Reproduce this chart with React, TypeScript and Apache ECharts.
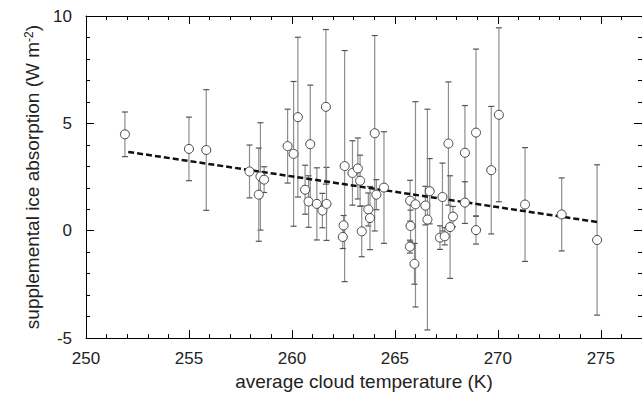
import React, { useEffect, useRef } from "react";
import * as echarts from "echarts";

// average cloud temperature (K)
const temps = [
  251.89, 255.0, 255.84, 257.94, 258.47, 258.65, 258.39, 259.79, 260.08, 260.29,
  260.64, 260.81, 260.89, 261.21, 261.48, 261.68, 261.65, 262.56, 262.51, 262.47,
  262.94, 263.2, 263.31, 263.39, 263.71, 263.79, 264.02, 264.1, 264.47, 265.74,
  265.76, 265.73, 266.0, 265.95, 266.69, 266.48, 266.58, 267.31, 267.19, 267.42,
  267.6, 267.68, 267.82, 268.4, 268.4, 268.94, 268.94, 269.68, 270.05, 271.32,
  273.1, 274.82,
];
// supplemental ice absorption (W m-2)
const values = [
  4.49, 3.81, 3.76, 2.76, 2.53, 2.38, 1.68, 3.94, 3.58, 5.29,
  1.91, 1.36, 4.03, 1.25, 0.94, 1.25, 5.77, 3.01, 0.25, -0.29,
  2.69, 2.9, 2.33, -0.03, 0.99, 0.59, 4.54, 1.68, 2.01, 1.4,
  0.22, -0.74, 1.23, -1.54, 1.84, 1.17, 0.52, 1.57, -0.32, -0.26,
  4.06, 0.17, 0.66, 3.63, 1.31, 4.57, 0.03, 2.82, 5.4, 1.22,
  0.76, -0.43,
];
// symmetric error (half-length of bar)
const errors = [
  1.04, 1.48, 2.81, 1.23, 2.5, 0.6, 2.17, 1.72, 3.37, 3.72,
  1.14, 1.2, 2.75, 1.68, 0.8, 1.7, 3.6, 5.38, 0.46, 0.54,
  1.5, 1.42, 1.19, 1.18, 0.77, 1.47, 4.55, 0.7, 2.6, 0.95,
  0.74, 0.3, 4.78, 0.95, 1.52, 0.9, 5.14, 1.58, 0.55, 0.4,
  2.87, 2.39, 0.47, 2.2, 0.97, 3.89, 0.65, 2.97, 4.05, 2.65,
  1.7, 3.5,
];
// linear fit endpoints
const trendX = [252.05, 274.87];
const trendY = [3.67, 0.4];

const xTickLabels = ["250", "255", "260", "265", "270", "275"];
const yTickLabels = ["-5", "0", "5", "10"];

const FONT = "'Liberation Sans', Arial, Helvetica, sans-serif";
const TEXT = "#222";

export default function App() {
  const ref = useRef<HTMLDivElement>(null);

  useEffect(() => {
    if (!ref.current) return;
    const chart = echarts.init(ref.current, undefined, { renderer: "svg" });

    const pts = temps.map((t, i) => [t, values[i]]);
    const bars = temps.map((t, i) => [t, values[i], errors[i]]);
    const trend = trendX.map((t, i) => [t, trendY[i]]);

    const xBase = {
      type: "value" as const,
      min: 250,
      max: 277,
      splitLine: { show: false },
    };
    const yBase = {
      type: "value" as const,
      min: -5,
      max: 10,
      splitLine: { show: false },
    };
    const lineOn = { show: true, onZero: false, lineStyle: { color: "#000", width: 1 } };
    const lineOff = { show: false, onZero: false };
    const tick = (len: number) => ({
      show: true,
      inside: true,
      length: len,
      lineStyle: { color: "#000", width: 1 },
    });

    chart.setOption({
      animation: false,
      backgroundColor: "#fff",
      grid: { left: 86, top: 16, width: 558, height: 324, containLabel: false },
      xAxis: [
        {
          ...xBase,
          position: "bottom",
          interval: 5,
          axisLine: lineOn,
          axisTick: tick(8),
          axisLabel: {
            fontSize: 17,
            color: TEXT,
            fontFamily: FONT,
            margin: 12,
            showMaxLabel: false,
            formatter: (v: number) => {
              const s = String(v);
              return xTickLabels.includes(s) ? s : "";
            },
          },
          name: "average cloud temperature (K)",
          nameLocation: "middle",
          nameGap: 33,
          nameTextStyle: { fontSize: 19, color: TEXT, fontFamily: FONT },
        },
        {
          ...xBase,
          position: "bottom",
          interval: 1,
          axisLine: lineOff,
          axisTick: tick(4),
          axisLabel: { show: false },
        },
        {
          ...xBase,
          position: "top",
          interval: 5,
          axisLine: lineOn,
          axisTick: tick(8),
          axisLabel: { show: false },
        },
        {
          ...xBase,
          position: "top",
          interval: 1,
          axisLine: lineOff,
          axisTick: tick(4),
          axisLabel: { show: false },
        },
      ],
      yAxis: [
        {
          ...yBase,
          position: "left",
          interval: 5,
          axisLine: lineOn,
          axisTick: tick(8),
          axisLabel: {
            fontSize: 17,
            color: TEXT,
            fontFamily: FONT,
            margin: 14,
            formatter: (v: number) => {
              const s = String(v);
              return yTickLabels.includes(s) ? s : "";
            },
          },
          name: "supplemental ice absorption (W m{sup|-2})",
          nameLocation: "middle",
          nameGap: 44,
          nameRotate: 90,
          nameTextStyle: {
            fontSize: 19,
            color: TEXT,
            fontFamily: FONT,
            rich: {
              sup: {
                fontSize: 12,
                color: TEXT,
                fontFamily: FONT,
                verticalAlign: "top",
                lineHeight: 12,
              },
            },
          },
        },
        {
          ...yBase,
          position: "left",
          interval: 1,
          axisLine: lineOff,
          axisTick: tick(4),
          axisLabel: { show: false },
        },
        {
          ...yBase,
          position: "right",
          interval: 5,
          axisLine: lineOn,
          axisTick: tick(8),
          axisLabel: { show: false },
        },
        {
          ...yBase,
          position: "right",
          interval: 1,
          axisLine: lineOff,
          axisTick: tick(4),
          axisLabel: { show: false },
        },
      ],
      series: [
        {
          type: "custom",
          xAxisIndex: 0,
          yAxisIndex: 0,
          data: bars,
          encode: { x: 0, y: 1 },
          z: 1,
          renderItem: (params: any, api: any) => {
            const x = api.value(0);
            const y = api.value(1);
            const e = api.value(2);
            const top = api.coord([x, y + e]);
            const bot = api.coord([x, y - e]);
            const cap = 3;
            return {
              type: "group",
              children: [
                {
                  type: "line",
                  shape: { x1: top[0], y1: top[1], x2: bot[0], y2: bot[1] },
                  style: { stroke: "#8e8e8e", lineWidth: 1.2 },
                },
                {
                  type: "line",
                  shape: { x1: top[0] - cap, y1: top[1], x2: top[0] + cap, y2: top[1] },
                  style: { stroke: "#555", lineWidth: 1.2 },
                },
                {
                  type: "line",
                  shape: { x1: bot[0] - cap, y1: bot[1], x2: bot[0] + cap, y2: bot[1] },
                  style: { stroke: "#555", lineWidth: 1.2 },
                },
              ],
            };
          },
        },
        {
          type: "line",
          xAxisIndex: 0,
          yAxisIndex: 0,
          data: trend,
          showSymbol: false,
          symbol: "none",
          z: 2,
          lineStyle: { color: "#111", width: 2.5, type: [6, 3] },
        },
        {
          type: "scatter",
          xAxisIndex: 0,
          yAxisIndex: 0,
          data: pts,
          symbol: "circle",
          symbolSize: 9,
          z: 3,
          itemStyle: { color: "#fff", borderColor: "#444", borderWidth: 1, opacity: 1 },
        },
      ],
    });

    return () => chart.dispose();
  }, []);

  return (
    <div
      ref={ref}
      style={{ position: "absolute", left: 0, top: 0, width: 642, height: 396 }}
    />
  );
}
